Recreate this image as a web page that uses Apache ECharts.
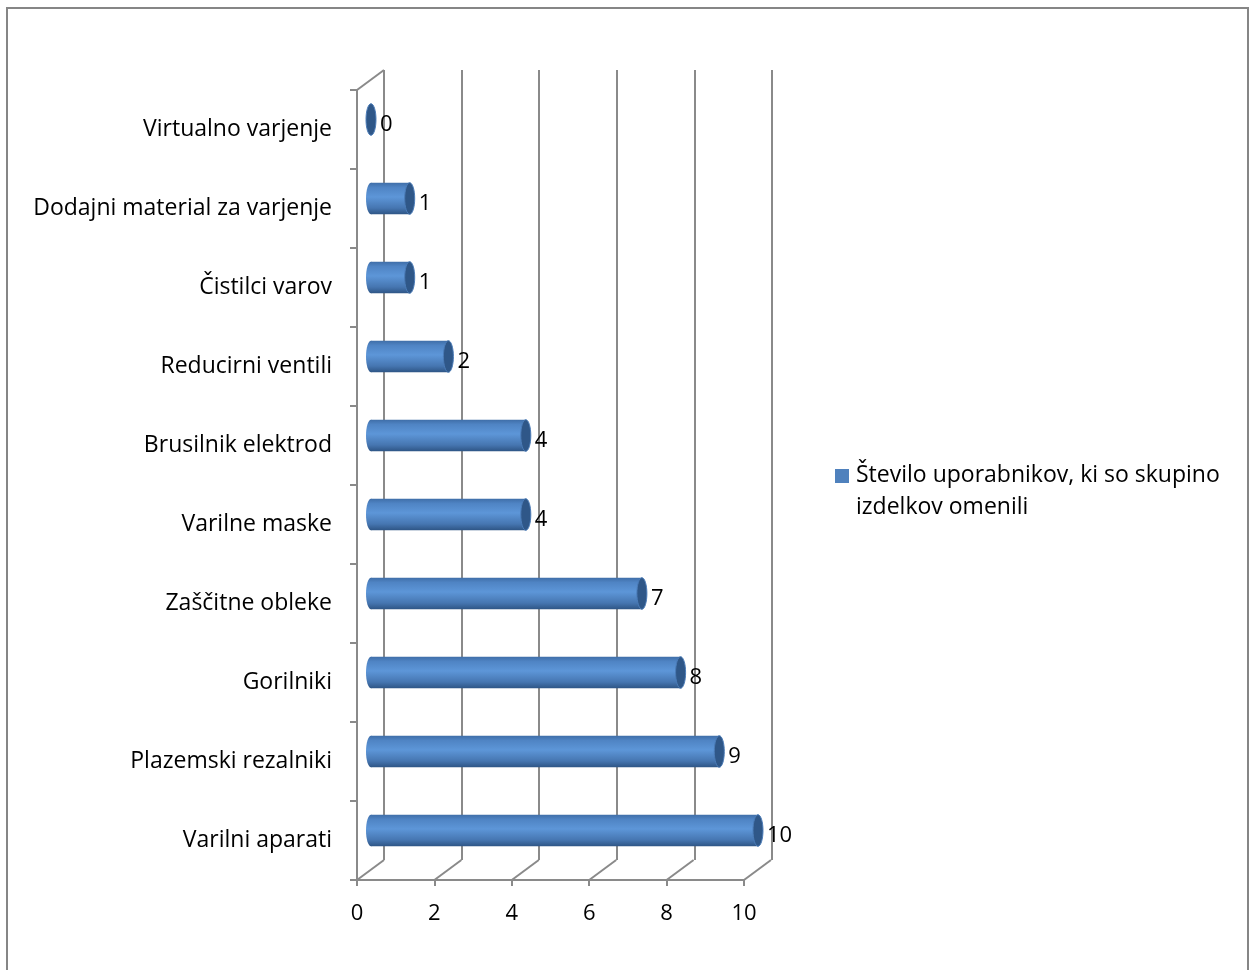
<!DOCTYPE html>
<html>
<head>
<meta charset="utf-8">
<script src="https://cdn.jsdelivr.net/npm/echarts@6/dist/echarts.min.js"></script>
<style>
  html, body { margin: 0; padding: 0; background: #fff; }
  #chart { width: 1250px; height: 970px; }
</style>
</head>
<body>
<div id="chart"></div>
<script>
// podatki (od zgoraj navzdol)
var categories = ['Virtualno varjenje', 'Dodajni material za varjenje', 'Čistilci varov',
  'Reducirni ventili', 'Brusilnik elektrod', 'Varilne maske', 'Zaščitne obleke',
  'Gorilniki', 'Plazemski rezalniki', 'Varilni aparati'];
var values = [0, 1, 1, 2, 4, 4, 7, 8, 9, 10];
var xTicks = [0, 2, 4, 6, 8, 10];
var seriesName = 'Število uporabnikov, ki so skupino izdelkov omenili';

(function () {
  var FONT = '"Open Sans"';
  var GRID_COLOR = '#8a8a8a';
  // zamik zadnje stene (3D globina)
  var DX = 27, DY = -20;

  let myChart = echarts.init(document.getElementById('chart'));

  function renderCylinder(params, api) {
    var v = api.value(0);
    var start = api.coord([0, api.value(1)]);
    var end = api.coord([v, api.value(1)]);
    var h = api.size([0, 1])[1] * 0.4;
    var rx = 5;
    var grad = new echarts.graphic.LinearGradient(0, 0, 0, 1, [
      { offset: 0, color: '#3f6ea8' },
      { offset: 0.15, color: '#4f84c4' },
      { offset: 0.45, color: '#5d96d8' },
      { offset: 0.8, color: '#4676b1' },
      { offset: 1, color: '#2e5585' }
    ]);
    var children = [];
    if (v > 0) {
      children.push({
        type: 'ellipse',
        shape: { cx: start[0], cy: start[1], rx: rx, ry: h / 2 },
        style: { fill: grad }
      });
      children.push({
        type: 'rect',
        shape: { x: start[0], y: start[1] - h / 2, width: end[0] - start[0], height: h },
        style: { fill: grad }
      });
    }
    children.push({
      type: 'ellipse',
      shape: { cx: end[0], cy: end[1], rx: rx, ry: h / 2 },
      style: { fill: '#2f5788', stroke: '#4b7cb8', lineWidth: 1 }
    });
    children.push({
      type: 'text',
      style: {
        text: String(v), x: end[0] + rx + 4, y: end[1] + 5,
        verticalAlign: 'middle', align: 'left',
        fontSize: 22, fontFamily: FONT, fill: '#000'
      }
    });
    return { type: 'group', children: children };
  }

  function renderDepth(params, api) {
    var cs = params.coordSys;
    var p = api.coord([api.value(0), 0]);
    var x = p[0], yb = cs.y + cs.height;
    var lines = [{
      type: 'line',
      shape: { x1: x, y1: yb, x2: x + DX, y2: yb + DY },
      style: { stroke: GRID_COLOR, lineWidth: 2 }
    }];
    if (params.dataIndex === 0) {
      lines.push({
        type: 'line',
        shape: { x1: x, y1: cs.y, x2: x + DX, y2: cs.y + DY },
        style: { stroke: GRID_COLOR, lineWidth: 2 }
      });
    }
    return { type: 'group', children: lines };
  }

  let option = {
    animation: false,
    backgroundColor: '#fff',
    textStyle: { fontFamily: FONT },
    grid: [
      { left: 357, top: 90, width: 387, height: 790 },   // sprednja os
      { left: 384, top: 70, width: 388, height: 790 },   // zadnja stena
      { left: 371, top: 80, width: 387, height: 790 }    // valji
    ],
    xAxis: [
      {
        gridIndex: 0, type: 'value', min: 0, max: 10, interval: 2,
        axisLine: { show: true, lineStyle: { color: GRID_COLOR, width: 2 } },
        axisTick: { show: true, length: 6, lineStyle: { color: GRID_COLOR, width: 2 } },
        splitLine: { show: false },
        axisLabel: { color: '#000', fontSize: 22, margin: 23, fontFamily: FONT }
      },
      {
        gridIndex: 1, type: 'value', min: 0, max: 10, interval: 2,
        axisLine: { show: false }, axisTick: { show: false }, axisLabel: { show: false },
        splitLine: { show: true, lineStyle: { color: GRID_COLOR, width: 2 } }
      },
      {
        gridIndex: 2, type: 'value', min: 0, max: 10, show: false
      }
    ],
    yAxis: [
      {
        gridIndex: 0, type: 'category', data: categories, inverse: true,
        axisLine: { show: true, lineStyle: { color: GRID_COLOR, width: 2 } },
        axisTick: { show: true, length: 7, lineStyle: { color: GRID_COLOR, width: 2 } },
        axisLabel: { color: '#000', fontSize: 23, margin: 25, fontFamily: FONT }
      },
      {
        gridIndex: 1, type: 'category', data: categories, inverse: true, show: false
      },
      {
        gridIndex: 2, type: 'category', data: categories, inverse: true, show: false
      }
    ],
    series: [
      {
        name: 'depth',
        type: 'custom',
        xAxisIndex: 0, yAxisIndex: 0,
        data: xTicks.map(function (t) { return [t]; }),
        encode: { x: 0 },
        renderItem: renderDepth,
        silent: true
      },
      {
        name: seriesName,
        type: 'custom',
        xAxisIndex: 2, yAxisIndex: 2,
        data: values.map(function (v, i) { return [v, i]; }),
        encode: { x: 0, y: 1 },
        renderItem: renderCylinder
      }
    ],
    graphic: [
      {
        type: 'rect', silent: true,
        shape: { x: 7, y: 8, width: 1241, height: 980 },
        style: { fill: 'none', stroke: '#868686', lineWidth: 2 }
      },
      {
        type: 'rect',
        shape: { x: 835, y: 469, width: 14, height: 14 },
        style: { fill: '#4f81bd' }
      },
      {
        type: 'text', left: 856, top: 459,
        style: {
          text: 'Število uporabnikov, ki so skupino\nizdelkov omenili',
          fontSize: 23, lineHeight: 32, fontFamily: FONT, fill: '#000'
        }
      }
    ]
  };

  myChart.setOption(option);
})();
</script>
</body>
</html>
